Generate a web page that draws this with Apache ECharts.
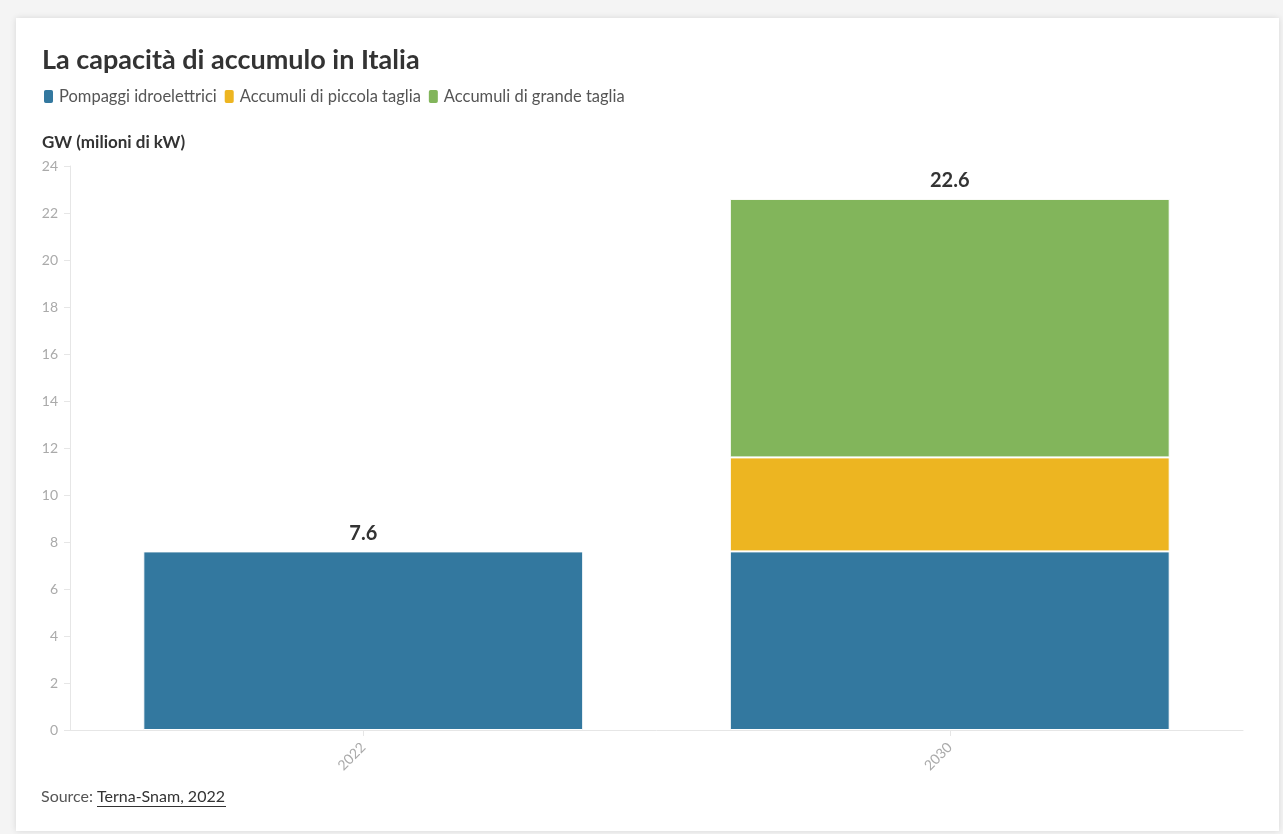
<!DOCTYPE html>
<html><head><meta charset="utf-8">
<script src="https://cdn.jsdelivr.net/npm/echarts@6/dist/echarts.min.js"></script>
<style>
html,body{margin:0;padding:0;background:#f4f4f4;width:1283px;height:834px;overflow:hidden;}
#card{position:absolute;left:16px;top:18px;width:1263px;height:813px;background:#fff;box-shadow:0 0 6px rgba(0,0,0,0.12);}
#chart{position:absolute;left:0;top:0;width:1283px;height:834px;}
</style></head>
<body><div id="card"></div><div id="chart"></div>
<script>
const categories = ['2022', '2030'];
const seriesNames = ['Pompaggi idroelettrici', 'Accumuli di piccola taglia', 'Accumuli di grande taglia'];
const pompaggi = [7.6, 7.6];
const piccola = [null, 4.0];
const grande = [null, 11.0];
const totals = [7.6, 22.6];
const colors = ['#33789f', '#edb521', '#82b55b'];
const FONT = 'Lato, "Noto Sans", sans-serif';

const chart = echarts.init(document.getElementById('chart'), null, {renderer: 'canvas'});
const barCommon = {type: 'bar', stack: 'tot', barWidth: '75%'};
chart.setOption({
  textStyle: {fontFamily: FONT},
  animation: false,
  title: [
    {text: 'La capacità di accumulo in Italia', left: 37, top: 42, textStyle: {fontFamily: FONT, fontSize: 27, fontWeight: 'bold', color: '#333'}},
    {text: 'GW (milioni di kW)', left: 37, top: 129, textStyle: {fontFamily: FONT, fontSize: 17, fontWeight: 'bold', color: '#333'}}
  ],
  legend: {
    left: 37, top: 83, icon: 'roundRect', itemWidth: 11, itemHeight: 15, itemGap: 6,
    data: seriesNames,
    textStyle: {fontFamily: FONT, fontSize: 16.5, color: '#555'}
  },
  grid: {left: 70, right: 40, top: 166, bottom: 104, containLabel: false},
  xAxis: {
    type: 'category', data: categories,
    axisLine: {lineStyle: {color: '#e6e6e6'}},
    axisTick: {show: true, alignWithLabel: true, length: 6, lineStyle: {color: '#e6e6e6'}},
    axisLabel: {rotate: 45, color: '#aaa', fontSize: 14, margin: 15, fontFamily: FONT}
  },
  yAxis: {
    type: 'value', min: 0, max: 24, interval: 2,
    axisLine: {show: true, lineStyle: {color: '#e6e6e6'}},
    axisTick: {show: true, length: 6, lineStyle: {color: '#e6e6e6'}},
    splitLine: {show: false},
    axisLabel: {color: '#aaa', fontSize: 14, margin: 12, fontFamily: FONT}
  },
  series: [
    Object.assign({}, barCommon, {name: seriesNames[0], data: pompaggi, itemStyle: {color: colors[0], borderColor: '#fff', borderWidth: 1}}),
    Object.assign({}, barCommon, {name: seriesNames[1], data: piccola, itemStyle: {color: colors[1], borderColor: '#fff', borderWidth: 1}}),
    Object.assign({}, barCommon, {name: seriesNames[2], data: grande, itemStyle: {color: colors[2], borderColor: '#fff', borderWidth: 1}}),
    Object.assign({}, barCommon, {name: 'Totale', data: totals.map(() => 0), itemStyle: {color: 'transparent', borderWidth: 0},
      label: {show: true, position: 'top', distance: 8, fontSize: 20, fontWeight: 'bold', color: '#333', fontFamily: FONT,
        formatter: p => totals[p.dataIndex].toFixed(1)}})
  ],
  graphic: [
    {type: 'text', left: 41, top: 789, style: {text: 'Source:', font: '16px ' + FONT, fill: '#555'}},
    {type: 'text', left: 97, top: 789, style: {text: 'Terna-Snam, 2022', font: '16px ' + FONT, fill: '#333'}},
    {type: 'line', shape: {x1: 97, y1: 806.5, x2: 226, y2: 806.5}, style: {stroke: '#333', lineWidth: 1}}
  ]
});
</script></body></html>
